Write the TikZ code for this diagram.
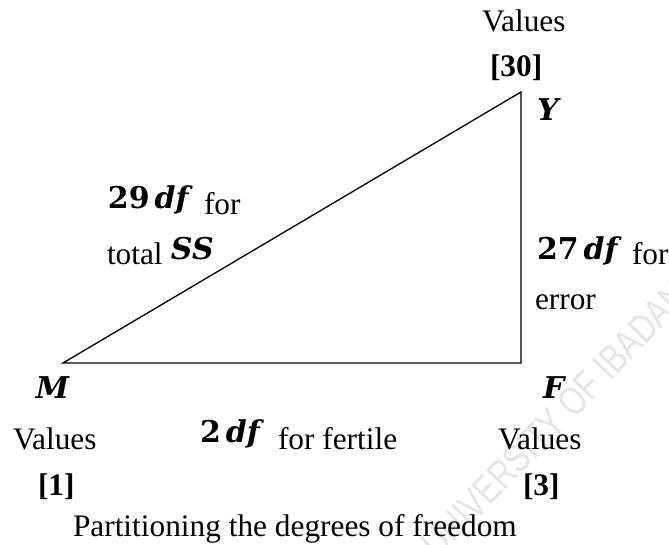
\documentclass[tikz,border=0pt]{standalone}
\usepackage{fontspec}
\setmainfont{Liberation Serif}
\newfontfamily\mathfont{DejaVu Serif}
\newfontfamily\markfont{Liberation Sans}
\usetikzlibrary{calc}
\newcommand{\dfnum}[2]{{\mathfont\fontsize{22.5}{27}\selectfont\bfseries #1\,\itshape #2}}
\newcommand{\vlabel}[1]{{\mathfont\fontsize{22.5}{27}\selectfont\bfseries\itshape #1}}

\begin{document}
\begin{tikzpicture}[x=0.75pt,y=-0.75pt,
  every node/.style={inner sep=0pt,outer sep=0pt,anchor=base west,font=\fontsize{23.5}{28}\selectfont},
  side/.style={line width=1pt,line join=miter}]
  \useasboundingbox (0,0) rectangle (669,545);
  \node[rotate=46,text=gray!20,font=\markfont\fontsize{30}{36}\selectfont] (mark) at (438,560) {\scalebox{0.78}[1]{UNIVERSITY OF IBADAN}};
  \coordinate (M) at (63,363);
  \coordinate (F) at (521,363);
  \coordinate (Y) at (521,92);
  \draw[side] (M) -- (F) -- (Y) -- cycle;
  % corner labels
  \node (vtop) at (482,32) {Values};
  \node (ntop) at (490,77) {\textbf{[30]}};
  \node (lY) at (537,121) {\vlabel{Y}};
  \node (lM) at (36,399) {\vlabel{M}};
  \node (lF) at (543,399) {\vlabel{F}};
  \node (vleft) at (13,450) {Values};
  \node (nleft) at (38,496) {\textbf{[1]}};
  \node (vright) at (498,450) {Values};
  \node (nright) at (523,496) {\textbf{[3]}};
  % side labels
  \node (dftot) at (108,209) {\dfnum{29}{df}};
  \node (fortot) at (204,215) {for};
  \node (total) at (107,265) {total};
  \node (ss) at (171,260) {\vlabel{SS}};
  \node (dferr) at (537,260) {\dfnum{27}{df}};
  \node (forerr) at (632,265) {for};
  \node (error) at (535,310) {error};
  \node (dffer) at (200,443) {\dfnum{2}{df}};
  \node (forfer) at (278,450) {for fertile};
  \node (caption) at (73,537) {Partitioning the degrees of freedom};
\end{tikzpicture}
\end{document}
